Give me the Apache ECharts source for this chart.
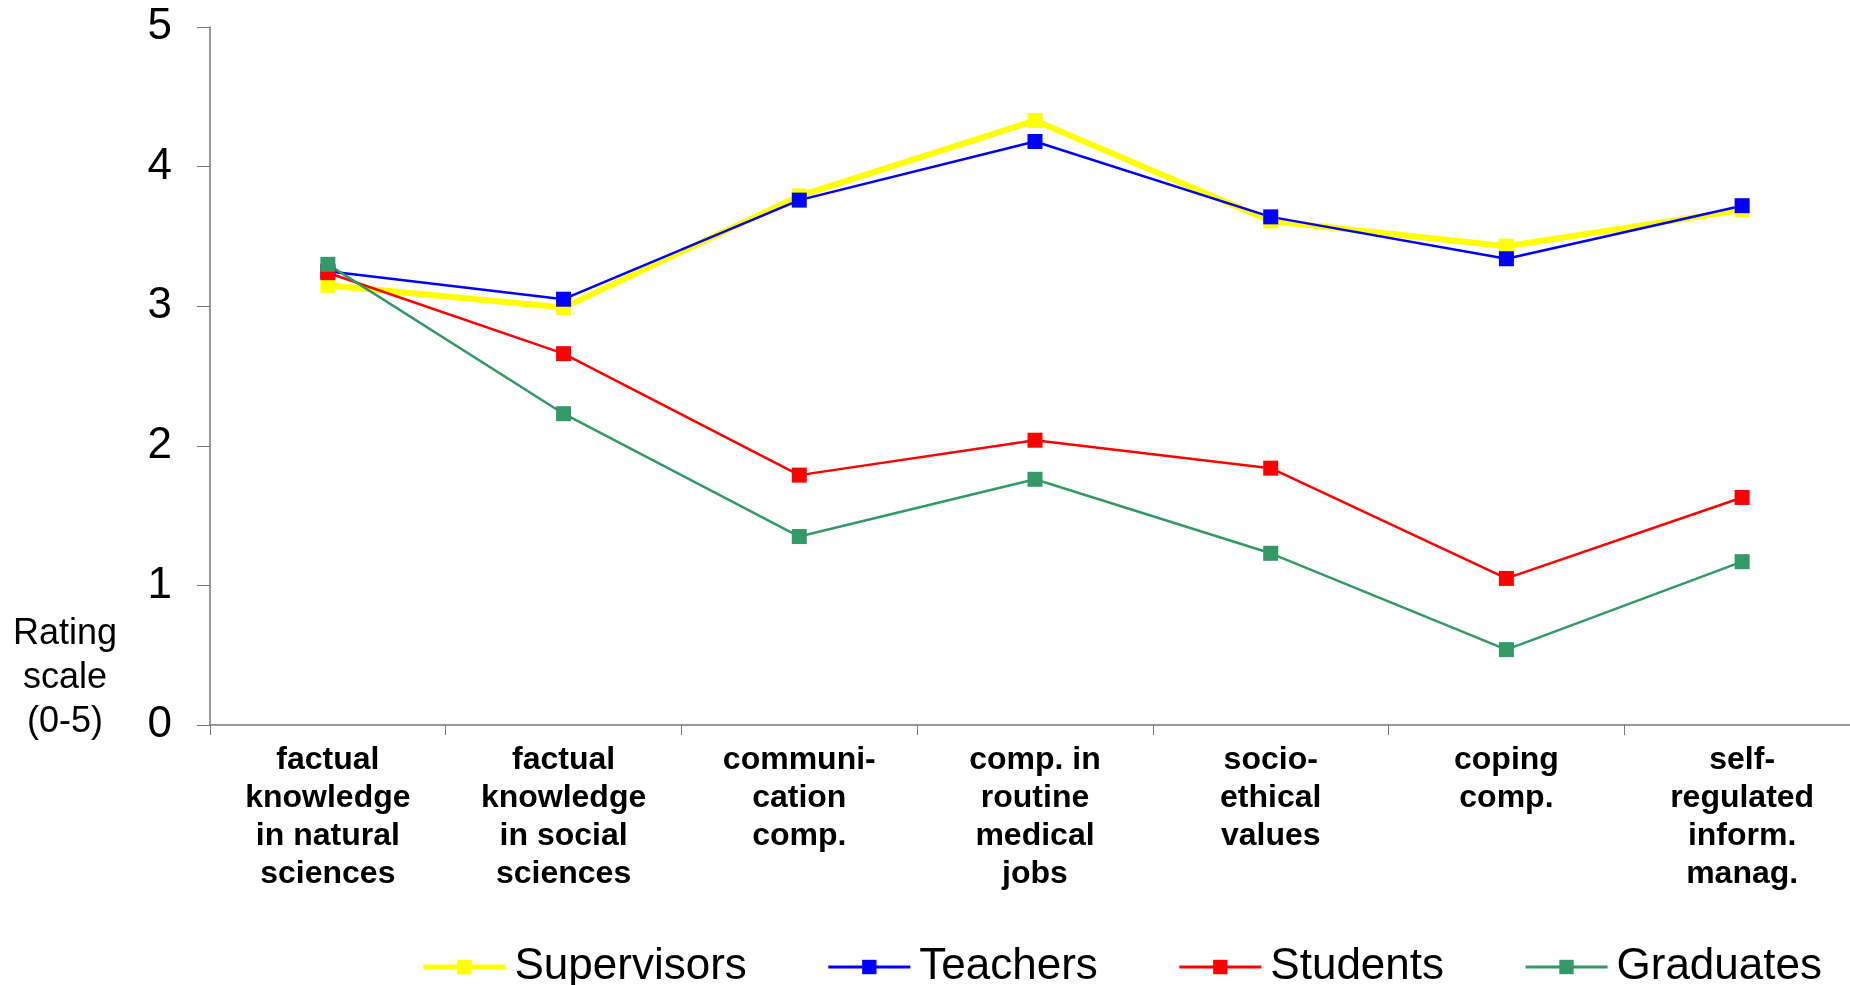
<!DOCTYPE html>
<html>
<head>
<meta charset="utf-8">
<script src="https://cdn.jsdelivr.net/npm/echarts@6/dist/echarts.min.js"></script>
<style>
    html, body { margin: 0; padding: 0; background: #fff; }
    #chart { width: 1850px; height: 985px; }
</style>
</head>
<body>
<div id="chart"></div>
<script>
// categories along the x axis
const categories = [
    "factual\nknowledge\nin natural\nsciences",
    "factual\nknowledge\nin social\nsciences",
    "communi-\ncation\ncomp.",
    "comp. in\nroutine\nmedical\njobs",
    "socio-\nethical\nvalues",
    "coping\ncomp.",
    "self-\nregulated\ninform.\nmanag."
];
const seriesNames = ["Supervisors", "Teachers", "Students", "Graduates"];
const supervisors = [3.15, 2.99, 3.79, 4.33, 3.61, 3.43, 3.69];
const teachers = [3.25, 3.05, 3.76, 4.18, 3.64, 3.34, 3.72];
const students = [3.24, 2.66, 1.79, 2.04, 1.84, 1.05, 1.63];
const graduates = [3.30, 2.23, 1.35, 1.76, 1.23, 0.54, 1.17];
const yTicks = [0, 1, 2, 3, 4, 5];

const font = "'Liberation Sans', Arial, Helvetica, sans-serif";
const axisColor = "#777";
const colors = ["#FFFF00", "#0000FF", "#FF0000", "#339966"];
const widths = [6, 2.5, 2.5, 2.5];

function lineSeries(i, data) {
    return {
        name: seriesNames[i],
        type: "line",
        data: data,
        symbol: "rect",
        symbolSize: 15,
        itemStyle: { color: colors[i] },
        lineStyle: { color: colors[i], width: widths[i] },
        emphasis: { disabled: true },
        animation: false
    };
}

const chart = echarts.init(document.getElementById("chart"));
chart.setOption({
    backgroundColor: "#fff",
    grid: { left: 210, top: 27, width: 1650, bottom: 260, outerBoundsMode: "none" },
    legend: {
        left: 416,
        top: 940,
        itemWidth: 82,
        itemHeight: 18,
        itemGap: 80,
        textStyle: { fontFamily: font, fontSize: 44, color: "#000", padding: [0, 0, 0, 4] },
        data: seriesNames.map((n, i) => ({
            name: n,
            lineStyle: { width: i === 0 ? 5 : 3 }
        }))
    },
    graphic: [{
        type: "text",
        x: 65,
        y: 612,
        style: {
            text: "Rating\nscale\n(0-5)",
            font: "36px " + font,
            fill: "#000",
            align: "center",
            lineHeight: 44
        }
    }],
    xAxis: {
        type: "category",
        data: categories,
        boundaryGap: true,
        axisLine: { lineStyle: { color: axisColor, width: 1.5 } },
        axisTick: { show: true, length: 10, lineStyle: { color: axisColor } },
        axisLabel: {
            interval: 0,
            margin: 16,
            color: "#000",
            fontFamily: font,
            fontWeight: "bold",
            fontSize: 32,
            lineHeight: 38
        },
        splitLine: { show: false }
    },
    yAxis: {
        type: "value",
        min: yTicks[0],
        max: yTicks[yTicks.length - 1],
        interval: 1,
        axisLine: { show: true, lineStyle: { color: axisColor, width: 1.5 } },
        axisTick: { show: true, length: 13, lineStyle: { color: axisColor } },
        axisLabel: { margin: 38, color: "#000", fontFamily: font, fontSize: 44 },
        splitLine: { show: false }
    },
    series: [
        lineSeries(0, supervisors),
        lineSeries(1, teachers),
        lineSeries(2, students),
        lineSeries(3, graduates)
    ]
});
</script>
</body>
</html>
